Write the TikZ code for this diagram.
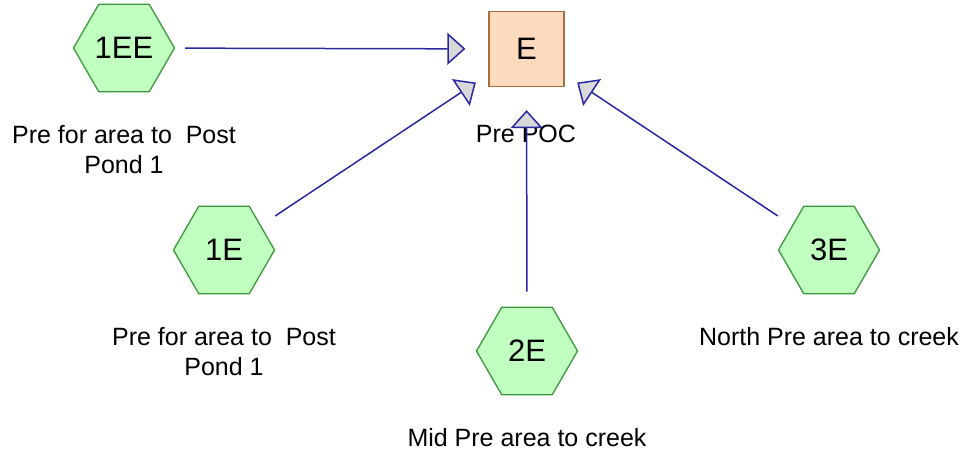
\documentclass[tikz,border=0pt]{standalone}
\usepackage{fontspec}
\setmainfont{Liberation Sans}
\usetikzlibrary{shapes.geometric,arrows.meta}
\definecolor{hexfill}{RGB}{192,255,192}
\definecolor{hexdraw}{RGB}{60,150,60}
\definecolor{boxfill}{RGB}{252,218,190}
\definecolor{boxdraw}{RGB}{170,110,60}
\definecolor{linkblue}{RGB}{40,40,160}
\definecolor{tipgray}{RGB}{216,216,216}
\tikzset{
  hexnode/.style={regular polygon, regular polygon sides=6, minimum size=101pt, inner sep=0pt,
    fill=hexfill, draw=hexdraw, line width=1.3pt, font=\fontsize{31}{37}\selectfont},
  boxnode/.style={rectangle, minimum size=75pt, inner sep=0pt, fill=boxfill, draw=boxdraw,
    line width=1.3pt, font=\fontsize{31}{37}\selectfont},
  lbl/.style={align=center, inner sep=0pt, anchor=base, font=\fontsize{25}{30}\selectfont},
  link/.style={draw=linkblue, line width=1.5pt,
    -{Triangle[length=18pt,width=32pt,fill=tipgray]}}
}
\begin{document}
\begin{tikzpicture}[x=1pt,y=-1pt]
\useasboundingbox (0,0) rectangle (964,455);
\node[boxnode] (E) at (526.5,49) {E};
\node[hexnode] (h1ee) at (124,48) {1EE};
\node[hexnode] (h1e) at (224,250) {1E};
\node[hexnode] (h2e) at (527,351) {2E};
\node[hexnode] (h3e) at (829,250) {3E};
\node[lbl] (lE) at (526,142) {Pre POC};
\node[lbl] (l1ee) at (124,173) {Pre for area to\ \ Post\\Pond 1};
\node[lbl] (l1e) at (224,375) {Pre for area to\ \ Post\\Pond 1};
\node[lbl] (l2e) at (527,446) {Mid Pre area to creek};
\node[lbl] (l3e) at (829,345) {North Pre area to creek};
\draw[link, shorten <=10pt, shorten >=23pt] (h1ee) -- (E);
\draw[link, shorten <=17pt, shorten >=15pt] (h1e) -- (E);
\draw[link, shorten <=15pt, shorten >=23pt] (h2e) -- (E);
\draw[link, shorten <=17pt, shorten >=15pt] (h3e) -- (E);
\end{tikzpicture}
\end{document}
